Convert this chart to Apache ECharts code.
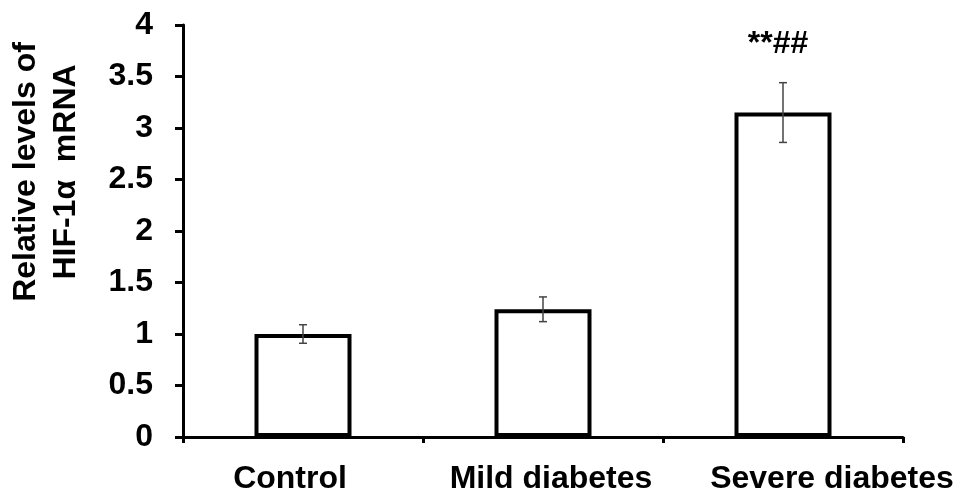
<!DOCTYPE html>
<html>
<head>
<meta charset="utf-8">
<script src="https://cdn.jsdelivr.net/npm/echarts@6/dist/echarts.min.js"></script>
<style>html,body{margin:0;padding:0;background:#fff}#c{width:969px;height:503px}</style>
</head>
<body>
<div id="c"></div>
<script>
var categories = ['Control', 'Mild diabetes', 'Severe diabetes'];
var means = [1.00, 1.24, 3.15];
var errors = [0.09, 0.12, 0.29];
var annotations = ['', '', '**##'];
var yTicks = ['0', '0.5', '1', '1.5', '2', '2.5', '3', '3.5', '4'];
var yTitle = 'Relative levels of\nHIF-1\u03b1  mRNA';

var FONT = '"Liberation Sans", Arial, sans-serif';
var errData = means.map(function (m, i) { return [i, m - errors[i], m + errors[i]]; });
var labelStyles = ['c0', 'c1', 'c2'];

var chart = echarts.init(document.getElementById('c'));
chart.setOption({
  animation: false,
  backgroundColor: '#fff',
  grid: { left: 183, right: 66, top: 25, bottom: 66 },
  xAxis: {
    type: 'category',
    data: categories,
    boundaryGap: true,
    axisLine: { lineStyle: { color: '#000', width: 3 } },
    axisTick: { show: true, length: 6, lineStyle: { color: '#000', width: 3 } },
    axisLabel: {
      interval: 0,
      color: '#000', fontFamily: FONT, fontWeight: 'bold', fontSize: 32, margin: 26,
      formatter: function (v, i) { return '{' + labelStyles[i] + '|' + v + '}'; },
      rich: {
        c0: { color: '#000', fontFamily: FONT, fontWeight: 'bold', fontSize: 32, padding: [0, 26, 0, 0] },
        c1: { color: '#000', fontFamily: FONT, fontWeight: 'bold', fontSize: 32, padding: [0, 0, 0, 16] },
        c2: { color: '#000', fontFamily: FONT, fontWeight: 'bold', fontSize: 32, padding: [0, 0, 0, 98] }
      }
    }
  },
  yAxis: {
    type: 'value',
    min: 0, max: 4, interval: 0.5,
    splitLine: { show: false },
    axisLine: { show: true, lineStyle: { color: '#000', width: 3 } },
    axisTick: { show: true, length: 8, lineStyle: { color: '#000', width: 3 } },
    axisLabel: {
      color: '#000', fontFamily: FONT, fontWeight: 'bold', fontSize: 32, margin: 30,
      formatter: function (v) { var i = Math.round(v / 0.5); return yTicks[i]; }
    }
  },
  graphic: [{
    type: 'text',
    x: 46, y: 172,
    rotation: Math.PI / 2,
    style: {
      text: yTitle, fill: '#000', font: 'bold 32px ' + FONT,
      align: 'center', verticalAlign: 'middle', lineHeight: 40
    }
  }],
  series: [{
    type: 'bar',
    data: means,
    barWidth: 97,
    itemStyle: { color: '#fff', borderColor: '#000', borderWidth: 4 },
    z: 2
  }, {
    type: 'custom',
    data: errData,
    z: 5,
    renderItem: function (params, api) {
      var x = api.value(0);
      var lo = api.coord([x, api.value(1)]);
      var hi = api.coord([x, api.value(2)]);
      var w = 4;
      var st = { stroke: '#444', lineWidth: 1.5 };
      var children = [
        { type: 'line', shape: { x1: lo[0], y1: lo[1], x2: hi[0], y2: hi[1] }, style: st },
        { type: 'line', shape: { x1: lo[0] - w, y1: lo[1], x2: lo[0] + w, y2: lo[1] }, style: st },
        { type: 'line', shape: { x1: hi[0] - w, y1: hi[1], x2: hi[0] + w, y2: hi[1] }, style: st }
      ];
      var ann = annotations[params.dataIndex];
      if (ann) {
        children.push({ type: 'text', x: hi[0] - 5, y: hi[1] - 39,
          style: { text: ann, fill: '#000', font: 'bold 32px ' + FONT, align: 'center', verticalAlign: 'middle' } });
      }
      return { type: 'group', children: children };
    }
  }]
});
</script>
</body>
</html>
